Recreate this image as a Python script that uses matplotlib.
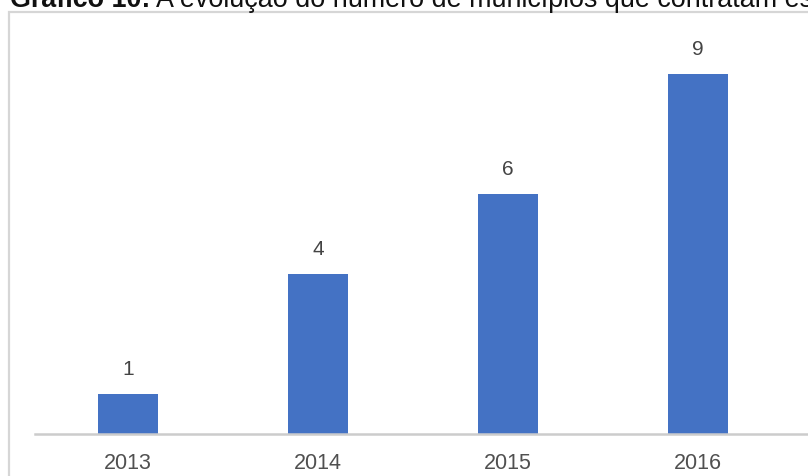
import matplotlib
matplotlib.use("Agg")
import matplotlib.pyplot as plt
from matplotlib.patches import Rectangle

# data
anos = ["2013", "2014", "2015", "2016"]
municipios = [1, 4, 6, 9]

W, H = 808, 477
DPI = 100

plt.rcParams['font.family'] = ['Liberation Sans', 'DejaVu Sans']

fig = plt.figure(figsize=(W / DPI, H / DPI), dpi=DPI)

# grey frame of the embedded chart (right and bottom edges fall outside)
fig.patches.append(Rectangle((8.5 / W, -0.1), 1.1, 1 - 12.5 / H + 0.1,
                             transform=fig.transFigure, fill=False,
                             edgecolor="#d6d6d6", lw=1.6))

# title, clipped at the top like in the reference
t1 = fig.text(10 / W, 1 - 7 / H, "Gráfico 10:", fontsize=19.4,
              fontweight="bold", va="baseline", ha="left", color="#111111")
fig.canvas.draw()
bb = t1.get_window_extent()
fig.text((bb.x1 + 6) / W, 1 - 7 / H, "A evolução do número de municípios que contratam esse serviço",
         fontsize=19.4, va="baseline", ha="left", color="#111111")

ax = fig.add_axes([33 / W, (H - 435) / H, (W - 33) / W, 400 / H])
x = range(len(anos))
bars = ax.bar(x, municipios, width=0.316, color="#4472c4", zorder=2)
ax.set_xlim(-0.5, (W - 33) / 190 - 0.5)
ax.set_ylim(0, 10)

for rect, v in zip(bars, municipios):
    ax.annotate(str(v), (rect.get_x() + rect.get_width() / 2, v),
                xytext=(0, 25), textcoords="offset pixels",
                ha="center", va="center", fontsize=15, color="#444444")

ax.set_xticks(list(x))
ax.set_xticklabels(anos, fontsize=15.5, color="#505050")
ax.tick_params(axis="x", length=0, pad=13)
ax.set_yticks([])
for s in ["top", "right", "left"]:
    ax.spines[s].set_visible(False)
ax.spines["bottom"].set_color("#cccccc")
ax.spines["bottom"].set_linewidth(1.8)
ax.spines["bottom"].set_bounds(-0.49, 4)

fig.savefig("out.png", dpi=DPI)
